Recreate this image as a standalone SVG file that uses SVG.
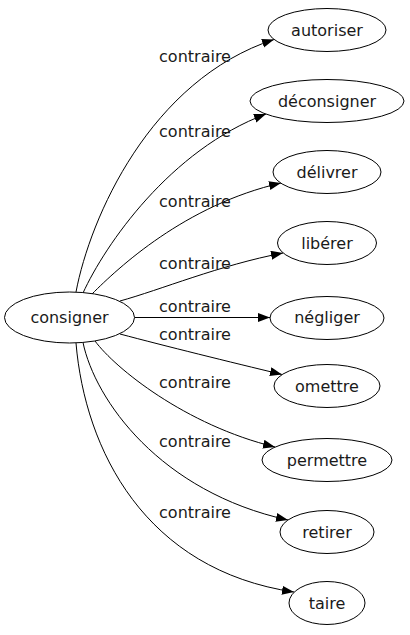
<svg xmlns="http://www.w3.org/2000/svg" width="410" height="635" viewBox="0 0 410 635">
<style>
.node ellipse{fill:#fff;stroke:#000;stroke-width:1}
.node text,.lbl{font-family:"DejaVu Sans","Liberation Sans",sans-serif;font-size:16px;fill:#1a1a1a;text-anchor:middle}
.edge{fill:none;stroke:#000;stroke-width:1;marker-end:url(#arr)}
</style>
<defs>
<marker id="arr" markerUnits="userSpaceOnUse" markerWidth="13" markerHeight="10" refX="12" refY="4.5" orient="auto">
<path d="M0,0 L12,4.5 L0,9 z" fill="#000"/>
</marker>
</defs>
<rect width="410" height="635" fill="#fff"/>
<g id="edges">
<path class="edge" d="M76,292 C90,218 150,80 274,39.5"/>
<path class="edge" d="M83,293 C105,245 170,150 266,114"/>
<path class="edge" d="M92,294 C118,268 185,205 281,183"/>
<path class="edge" d="M120,301 C160,290 220,265 283,253"/>
<path class="edge" d="M134.5,317.5 L270,317.5"/>
<path class="edge" d="M120,334 C165,346 230,362 282,374.5"/>
<path class="edge" d="M95,341 C115,368 185,425 275,447"/>
<path class="edge" d="M83,342.5 C95,400 160,492 288,520"/>
<path class="edge" d="M76,343 C85,450 145,570 294,592"/>
<text class="lbl" x="195" y="61.5">contraire</text>
<text class="lbl" x="195" y="136.5">contraire</text>
<text class="lbl" x="195" y="206.5">contraire</text>
<text class="lbl" x="195" y="268.5">contraire</text>
<text class="lbl" x="195" y="311.5">contraire</text>
<text class="lbl" x="195" y="339.5">contraire</text>
<text class="lbl" x="195" y="387.5">contraire</text>
<text class="lbl" x="195" y="446.5">contraire</text>
<text class="lbl" x="195" y="517.5">contraire</text>
</g>
<g id="consigner" class="node"><ellipse cx="69.5" cy="317.5" rx="65" ry="25.5"/><text x="69.5" y="323">consigner</text></g>
<g id="autoriser" class="node"><ellipse cx="327" cy="30" rx="59" ry="21.5"/><text x="327" y="35.5">autoriser</text></g>
<g id="deconsigner" class="node"><ellipse cx="327" cy="101" rx="77" ry="21.5"/><text x="327" y="106.5">déconsigner</text></g>
<g id="delivrer" class="node"><ellipse cx="327" cy="172" rx="54" ry="21.5"/><text x="327" y="177.5">délivrer</text></g>
<g id="liberer" class="node"><ellipse cx="327" cy="243" rx="49.5" ry="21.5"/><text x="327" y="248.5">libérer</text></g>
<g id="negliger" class="node"><ellipse cx="327" cy="318" rx="57" ry="21.5"/><text x="327" y="323">négliger</text></g>
<g id="omettre" class="node"><ellipse cx="327" cy="386" rx="53" ry="21.5"/><text x="327" y="391.5">omettre</text></g>
<g id="permettre" class="node"><ellipse cx="327" cy="460" rx="65" ry="21.5"/><text x="327" y="465.5">permettre</text></g>
<g id="retirer" class="node"><ellipse cx="327" cy="532" rx="47" ry="21.5"/><text x="327" y="537.5">retirer</text></g>
<g id="taire" class="node"><ellipse cx="327" cy="603" rx="38" ry="21.5"/><text x="327" y="608.5">taire</text></g>
</svg>
